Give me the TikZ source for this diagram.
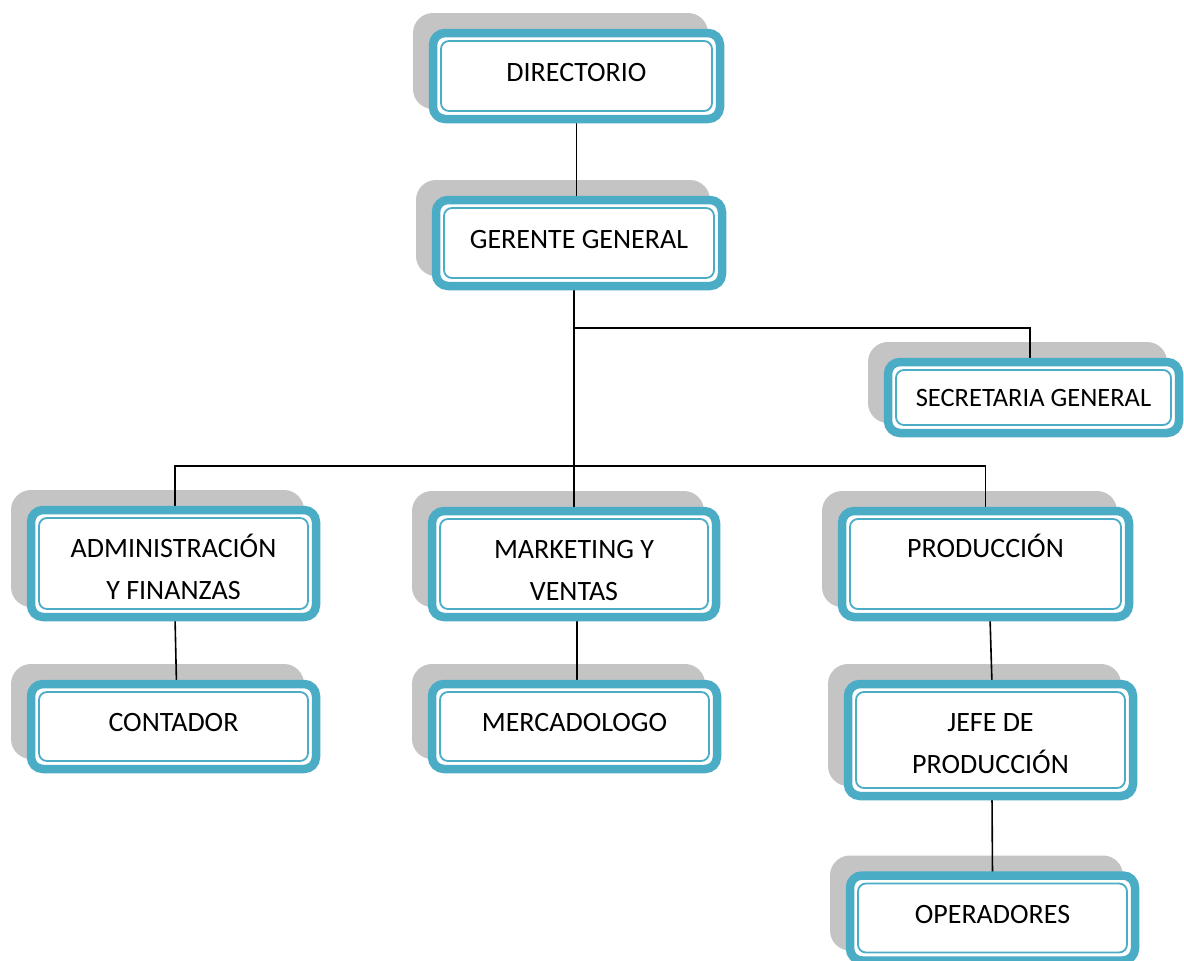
\documentclass[tikz,border=0pt]{standalone}
\usepackage{fontspec}
\setmainfont{Carlito}
\definecolor{accentblue}{HTML}{4BACC6}
\definecolor{shadowgray}{HTML}{C4C4C4}
\pgfdeclarelayer{bg}
\pgfdeclarelayer{shadow}
\pgfdeclarelayer{lines}
\pgfsetlayers{bg,shadow,lines,main}
\tikzset{
  obox/.style={draw=accentblue, line width=8.5pt, rounded corners=12pt, fill=white,
    outer sep=0pt, inner sep=2pt, align=center,
    font=\fontsize{28}{42}\selectfont},
  oneline/.style={text height=18pt, text depth=8pt},
  twoline/.style={text height=72pt, text depth=0pt},
  thinb/.style={draw=accentblue, line width=1.8pt, rounded corners=8pt},
  shad/.style={fill=shadowgray, rounded corners=20pt},
  conn/.style={draw=black, line width=1.6pt}
}
\newcommand\OrgBox[7]{%
  \node[obox,#1, minimum width=#5pt, minimum height=#6pt] (#2) at (#3,#4) {#7};
  \draw[thinb] ([shift={(8pt,8pt)}]#2.south west) rectangle ([shift={(-8pt,-8pt)}]#2.north east);
  \begin{pgfonlayer}{shadow}
    \fill[shad] ([shift={(-20pt,10pt)}]#2.south west) rectangle ([shift={(-12pt,20pt)}]#2.north east);
  \end{pgfonlayer}}
\begin{document}
\begin{tikzpicture}[x=1pt,y=-1pt]
\begin{pgfonlayer}{bg}
\fill[white] (0,0) rectangle (1184,961);
\end{pgfonlayer}
\useasboundingbox (0,0) rectangle (1184,961);
\OrgBox{oneline}{dir}{576.5}{76}{287}{86}{DIRECTORIO}
\OrgBox{oneline}{ger}{579}{243}{286}{86}{GERENTE GENERAL}
\OrgBox{oneline,text depth=0pt,font=\fontsize{26.5}{40}\selectfont}{sec}{1033.5}{397.5}{291}{71}{SECRETARIA GENERAL}
\OrgBox{twoline}{adm}{173.5}{563.5}{285}{107}{ADMINISTRACIÓN\\Y FINANZAS}
\OrgBox{twoline}{mkt}{574}{564}{284}{106}{MARKETING Y\\VENTAS}
\OrgBox{oneline,text depth=32pt}{pro}{985.5}{564}{287}{106}{PRODUCCIÓN}
\OrgBox{oneline}{con}{173.5}{726.5}{285}{85}{CONTADOR}
\OrgBox{oneline}{mer}{574.5}{726.5}{285}{85}{MERCADOLOGO}
\OrgBox{twoline,text height=66pt}{jef}{990.5}{740}{285}{112}{JEFE DE\\PRODUCCIÓN}
\OrgBox{oneline}{ope}{992.5}{918}{285}{85}{OPERADORES}
\coordinate (j1) at (574,328);
\coordinate (j2) at (574,466);
\begin{pgfonlayer}{lines}
\draw[conn] (dir.south) -- (dir.south |- ger.north);
\draw[conn] ([xshift=-5pt]ger.south) -- (j2);
\draw[conn] (j1) -| ([xshift=-3.5pt]sec.north);
\draw[conn] ([xshift=1.5pt]adm.north) |- (j2) -| (pro.north);
\draw[conn] (j2) -- (mkt.north);
\draw[conn] ([xshift=1.5pt]adm.south) -- ([xshift=3pt]con.north);
\draw[conn] ([xshift=3pt]mkt.south) -- ([xshift=2.5pt]mer.north);
\draw[conn] ([xshift=4.5pt]pro.south) -- ([xshift=1.5pt]jef.north);
\draw[conn] ([xshift=1.5pt]jef.south) -- (ope.north);
\end{pgfonlayer}
\end{tikzpicture}
\end{document}
